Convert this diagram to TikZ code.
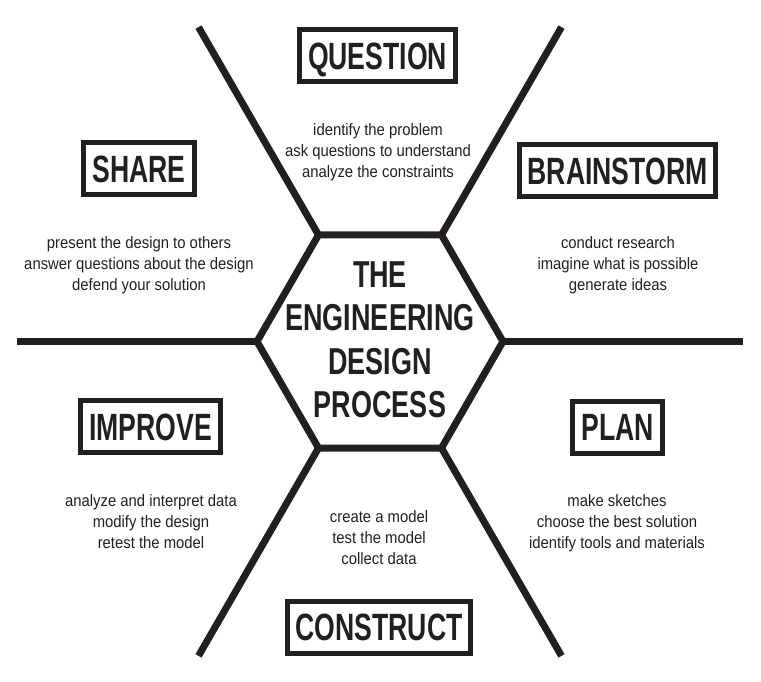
\documentclass[tikz,border=0pt]{standalone}
\usepackage{fontspec}
\setmainfont{Liberation Sans}
\newfontfamily\headfont{Liberation Sans}[FakeStretch=0.7]
\newfontfamily\titlefont{Liberation Sans}[FakeStretch=0.72]
\newfontfamily\notefont{Liberation Sans}[FakeStretch=0.9]
\usetikzlibrary{positioning}
\definecolor{ink}{HTML}{231F20}

\begin{document}
\begin{tikzpicture}[x=1pt, y=-1pt, ink, line width=7pt,
  stage/.style={draw, rectangle, line width=5pt, inner xsep=8.5pt, inner ysep=0pt,
    minimum height=52pt, text height=27.2pt, text depth=0pt,
    font=\headfont\bfseries\fontsize{38}{38}\selectfont},
  note/.style={align=center, font=\notefont\fontsize{16.5}{21}\selectfont}]
  \newcommand{\hexr}{123}
  \newcommand{\spoker}{363}
  \useasboundingbox (0,0) rectangle (761,682);

  \begin{scope}[shift={(380,341.5)}]
    \foreach \k in {0,...,5} {
      \coordinate (v\k) at (\k*60:\hexr);
      \coordinate (end\k) at (\k*60:\spoker);
    }
  \end{scope}

  \draw[line join=miter] (v0) -- (v1) -- (v2) -- (v3) -- (v4) -- (v5) -- cycle;
  \foreach \k in {0,...,5} \draw (v\k) -- (end\k);

  \node[align=center, font=\titlefont\bfseries\fontsize{37.5}{43.5}\selectfont] at (380, 340) (title) {THE\\ENGINEERING\\DESIGN\\PROCESS};

  \node[stage] at (377.5, 55.5) (question) {QUESTION};
  \node[stage] at (617.5, 170.5) (brainstorm) {BRAINSTORM};
  \node[stage] at (617.5, 427) (plan) {PLAN};
  \node[stage] at (379, 627) (construct) {CONSTRUCT};
  \node[stage] at (150.5, 426.5) (improve) {IMPROVE};
  \node[stage] at (139, 168.5) (share) {SHARE};

  \node[note] at (378, 152) (questionnote) {identify the problem\\ask questions to understand\\analyze the constraints};
  \node[note] at (618, 265) (brainstormnote) {conduct research\\imagine what is possible\\generate ideas};
  \node[note] at (617, 523) (plannote) {make sketches\\choose the best solution\\identify tools and materials};
  \node[note] at (379, 538) (constructnote) {create a model\\test the model\\collect data};
  \node[note] at (151, 521.5) (improvenote) {analyze and interpret data\\modify the design\\retest the model};
  \node[note] at (139, 265) (sharenote) {present the design to others\\answer questions about the design\\defend your solution};

\end{tikzpicture}
\end{document}
